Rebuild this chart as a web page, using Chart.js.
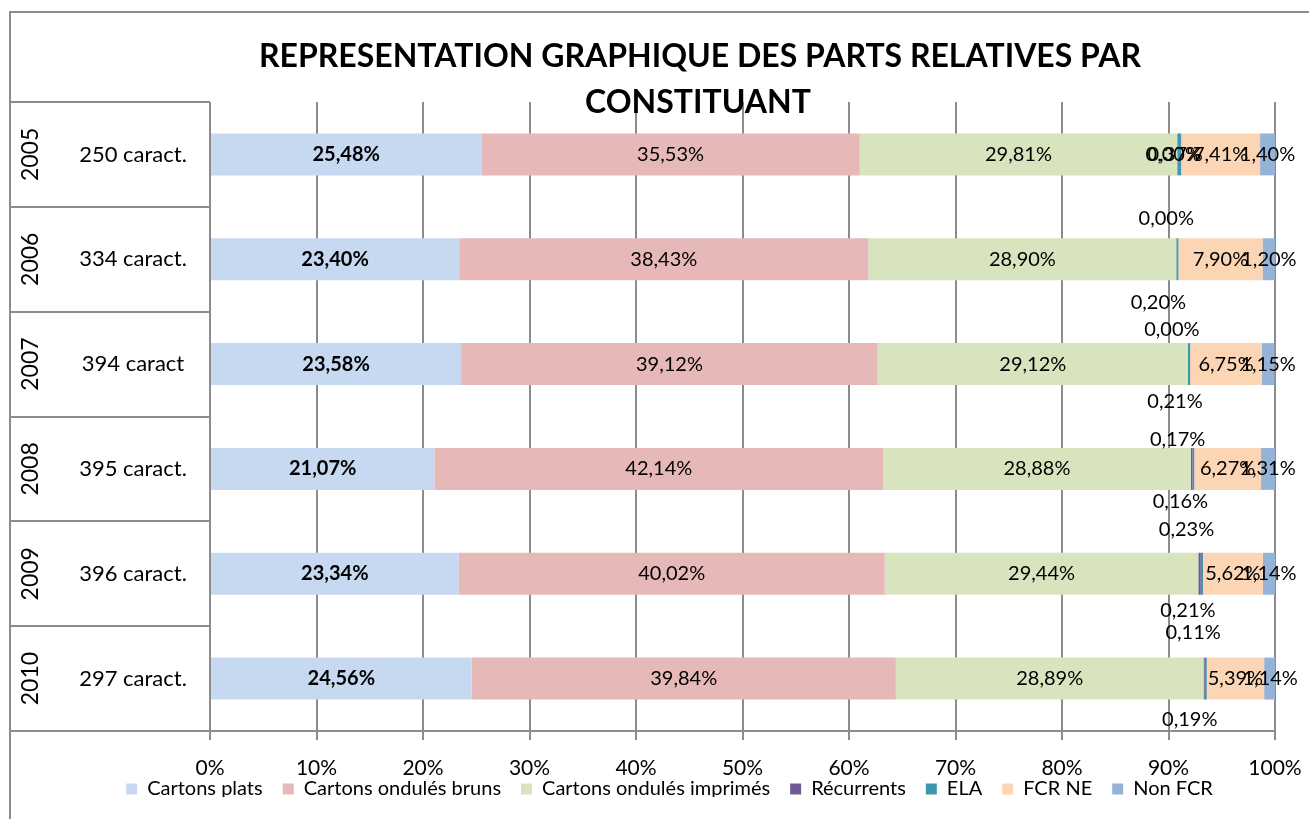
<!DOCTYPE html>
<html>
<head>
<meta charset="utf-8">
<script src="https://cdn.jsdelivr.net/npm/chart.js@4/dist/chart.umd.min.js"></script>
<style>
  html,body{margin:0;padding:0;background:#fff;}
  #wrap{width:1309px;height:819px;position:relative;}
</style>
</head>
<body>
<div id="wrap"><canvas id="chart"></canvas></div>
<script>
'use strict';
Chart.defaults.font.family = "Lato, 'Open Sans', sans-serif";
Chart.defaults.color = '#000';
Chart.defaults.animation = false;

// ── DATA ────────────────────────────────────────────────────────────────────
const years   = ['2005','2006','2007','2008','2009','2010'];
const caract  = ['250 caract.','334 caract.','394 caract','395 caract.','396 caract.','297 caract.'];
const seriesNames = ['Cartons plats','Cartons ondulés bruns','Cartons ondulés imprimés','Récurrents','ELA','FCR NE','Non FCR'];
const cartonsPlats    = [25.48, 23.40, 23.58, 21.07, 23.34, 24.56];
const ondulesBruns    = [35.53, 38.43, 39.12, 42.14, 40.02, 39.84];
const ondulesImprimes = [29.81, 28.90, 29.12, 28.88, 29.44, 28.89];
const recurrents      = [0.00, 0.00, 0.00, 0.17, 0.23, 0.11];
const ela             = [0.37, 0.20, 0.21, 0.16, 0.21, 0.19];
const fcrNe           = [7.41, 7.90, 6.75, 6.27, 5.62, 5.39];
const nonFcr          = [1.40, 1.20, 1.15, 1.31, 1.14, 1.14];
const xTicks = [0,10,20,30,40,50,60,70,80,90,100];
const titleLines = ['REPRESENTATION GRAPHIQUE DES PARTS RELATIVES PAR','CONSTITUANT'];

// ── STYLE ───────────────────────────────────────────────────────────────────
const COLORS = ['#c6d9f1','#e6b9b8','#d7e4bd','#715a93','#3f97ad','#fcd5b5','#95b3d7'];
const GRID = '#8c8c8c';
const FONT = "Lato, 'Open Sans', sans-serif";
// labels of the thin Récurrents / ELA slices were moved by hand: [dx, dy] from slice centre
const smallOffsets = {
  3: [[-4,0],[-10,-41],[-16,-35],[-14,-29],[-13,-44],[-11,-46]],
  4: [[-4,0],[-19,43],[-14,37],[-13,33],[-14,37],[-16,41]]
};
const fmtPct = v => v.toFixed(2).replace('.', ',') + '%';

// ── PLUGINS ─────────────────────────────────────────────────────────────────
const barLabels = {
  id:'barLabels',
  afterDatasetsDraw(chart){
    const ctx = chart.ctx;
    ctx.save();
    ctx.textAlign = 'center'; ctx.textBaseline = 'middle'; ctx.fillStyle = '#000';
    chart.data.datasets.forEach((ds, di) => {
      chart.getDatasetMeta(di).data.forEach((bar, i) => {
        const off = smallOffsets[di] ? smallOffsets[di][i] : [0,0];
        ctx.font = (di === 0 ? 'bold ' : '') + '20px ' + FONT;
        ctx.fillText(fmtPct(ds.data[i]), (bar.x + bar.base) / 2 + off[0], bar.y + off[1]);
      });
    });
    ctx.restore();
  }
};

// legend sits tight under the tick labels, like in the spreadsheet
const legendUp = {
  id:'legendUp',
  afterLayout(chart){ chart.legend.top -= 22; chart.legend.bottom -= 22; }
};

const frameAndTable = {
  id:'frameAndTable',
  afterDraw(chart){
    const ctx = chart.ctx, a = chart.chartArea, y = chart.scales.y;
    const rowH = (a.bottom - a.top) / years.length;
    ctx.save();
    ctx.strokeStyle = GRID; ctx.lineWidth = 2;
    ctx.beginPath();
    ctx.moveTo(10, 819); ctx.lineTo(10, 12); ctx.lineTo(1309, 12);
    for (let i = 0; i <= years.length; i++) {
      const yy = Math.round(a.top + rowH * i);
      ctx.moveTo(10, yy); ctx.lineTo(a.left, yy);
    }
    ctx.stroke();

    ctx.fillStyle = '#000'; ctx.textBaseline = 'middle'; ctx.textAlign = 'center';
    years.forEach((yr, i) => {
      const cy = y.getPixelForValue(i);
      ctx.font = '22px ' + FONT;
      ctx.fillText(caract[i], 133, cy);
      ctx.save();
      ctx.translate(31, cy); ctx.rotate(-Math.PI / 2);
      ctx.font = '23px ' + FONT;
      ctx.fillText(yr, 0, 0);
      ctx.restore();
    });

    ctx.font = 'bold 32px ' + FONT;
    ctx.fillText(titleLines[0], 700, 57);
    ctx.fillText(titleLines[1], 698, 103);
    ctx.restore();
  }
};

// ── CHART ───────────────────────────────────────────────────────────────────
const seriesData = [cartonsPlats, ondulesBruns, ondulesImprimes, recurrents, ela, fcrNe, nonFcr];

new Chart(document.getElementById('chart'), {
  type:'bar',
  data:{
    labels: years,
    datasets: seriesNames.map((name, i) => ({
      label: name, data: seriesData[i], backgroundColor: COLORS[i],
      borderWidth: 0, barPercentage: 0.4, categoryPercentage: 1
    }))
  },
  options:{
    indexAxis:'y',
    responsive:true, maintainAspectRatio:false,
    layout:{padding:{left:64, right:34, top:102, bottom:0}},
    plugins:{
      legend:{
        position:'bottom', maxHeight:38,
        labels:{boxWidth:11, boxHeight:11, padding:20, font:{size:20}, color:'#000'}
      },
      title:{display:false},
      tooltip:{enabled:false}
    },
    scales:{
      x:{
        stacked:true, min:0, max:100,
        afterBuildTicks: s => { s.ticks = xTicks.map(v => ({value:v})); },
        afterFit: s => { s.height = 50; s.paddingLeft = 0; s.paddingRight = 0; },
        ticks:{callback: v => v + '%', font:{size:21}, padding:16, color:'#000', maxRotation:0},
        grid:{color:GRID, lineWidth:2, tickLength:9},
        border:{color:GRID, width:2}
      },
      y:{
        stacked:true,
        afterFit: s => { s.width = 146; },
        ticks:{display:false},
        grid:{display:false},
        border:{display:false}
      }
    }
  },
  plugins:[barLabels, legendUp, frameAndTable]
});
</script>
</body>
</html>
